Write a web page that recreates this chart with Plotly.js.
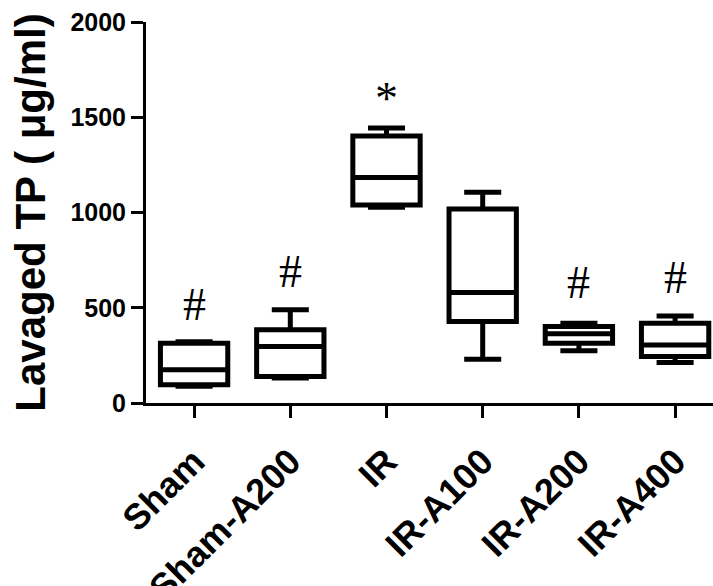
<!DOCTYPE html>
<html>
<head>
<meta charset="utf-8">
<script src="https://cdn.plot.ly/plotly-3.0.1.min.js"></script>
<style>html,body{margin:0;padding:0;background:#fff;}#chart{width:713px;height:586px;}</style>
</head>
<body>
<div id="chart"></div>
<script>
var categories = ['Sham', 'Sham-A200', 'IR', 'IR-A100', 'IR-A200', 'IR-A400'];
var lowerWhisker = [88, 131, 1027, 230, 274, 213];
var q1Values = [96, 139, 1039, 428, 314, 244];
var medianValues = [175, 297, 1184, 580, 363, 305];
var q3Values = [314, 384, 1401, 1018, 402, 419];
var upperWhisker = [322, 489, 1444, 1106, 419, 457];
var markLabels = ['#', '#', '*', '', '#', '#'];
var markValues = [515, 690, 1600, null, 632, 660];
var yTicks = [0, 500, 1000, 1500, 2000];

var trace = {
  type: 'box',
  x: categories,
  q1: q1Values,
  median: medianValues,
  q3: q3Values,
  lowerfence: lowerWhisker,
  upperfence: upperWhisker,
  boxpoints: false,
  width: 0.7,
  whiskerwidth: 0.55,
  fillcolor: '#ffffff',
  line: {color: '#000000', width: 5},
  hoverinfo: 'skip',
  showlegend: false
};

var annotations = [];
for (var i = 0; i < categories.length; i++) {
  if (!markLabels[i]) continue;
  annotations.push({
    x: categories[i], y: markValues[i], xref: 'x', yref: 'y',
    text: markLabels[i], showarrow: false,
    xanchor: 'center', yanchor: 'middle',
    font: {family: 'Liberation Serif', size: 46, color: '#000'}
  });
}

var layout = {
  width: 713, height: 586,
  margin: {l: 146, r: 0, t: 22, b: 183, pad: 0},
  paper_bgcolor: '#fff', plot_bgcolor: '#fff',
  showlegend: false,
  xaxis: {
    type: 'category',
    range: [-0.5, 5.394],
    showline: true, linecolor: '#000', linewidth: 3,
    ticks: 'outside', ticklen: 12, tickwidth: 3, tickcolor: '#000',
    tickangle: -45,
    ticklabelstandoff: 8,
    tickfont: {family: 'Liberation Sans', size: 36, weight: 'bold', color: '#000'},
    showgrid: false, zeroline: false, automargin: false
  },
  yaxis: {
    range: [0, 2000],
    tickvals: yTicks,
    ticktext: yTicks.map(String),
    showline: true, linecolor: '#000', linewidth: 3,
    ticks: 'outside', ticklen: 12, tickwidth: 3, tickcolor: '#000',
    tickfont: {family: 'Liberation Sans', size: 25, weight: 'bold', color: '#000'},
    showgrid: false, zeroline: false, automargin: false,
    title: {text: 'Lavaged TP ( μg/ml)', standoff: 12,
      font: {family: 'Liberation Sans', size: 42, weight: 'bold', color: '#000'}}
  },
  annotations: annotations
};

Plotly.newPlot('chart', [trace], layout, {staticPlot: true, displayModeBar: false});
</script>
</body>
</html>
